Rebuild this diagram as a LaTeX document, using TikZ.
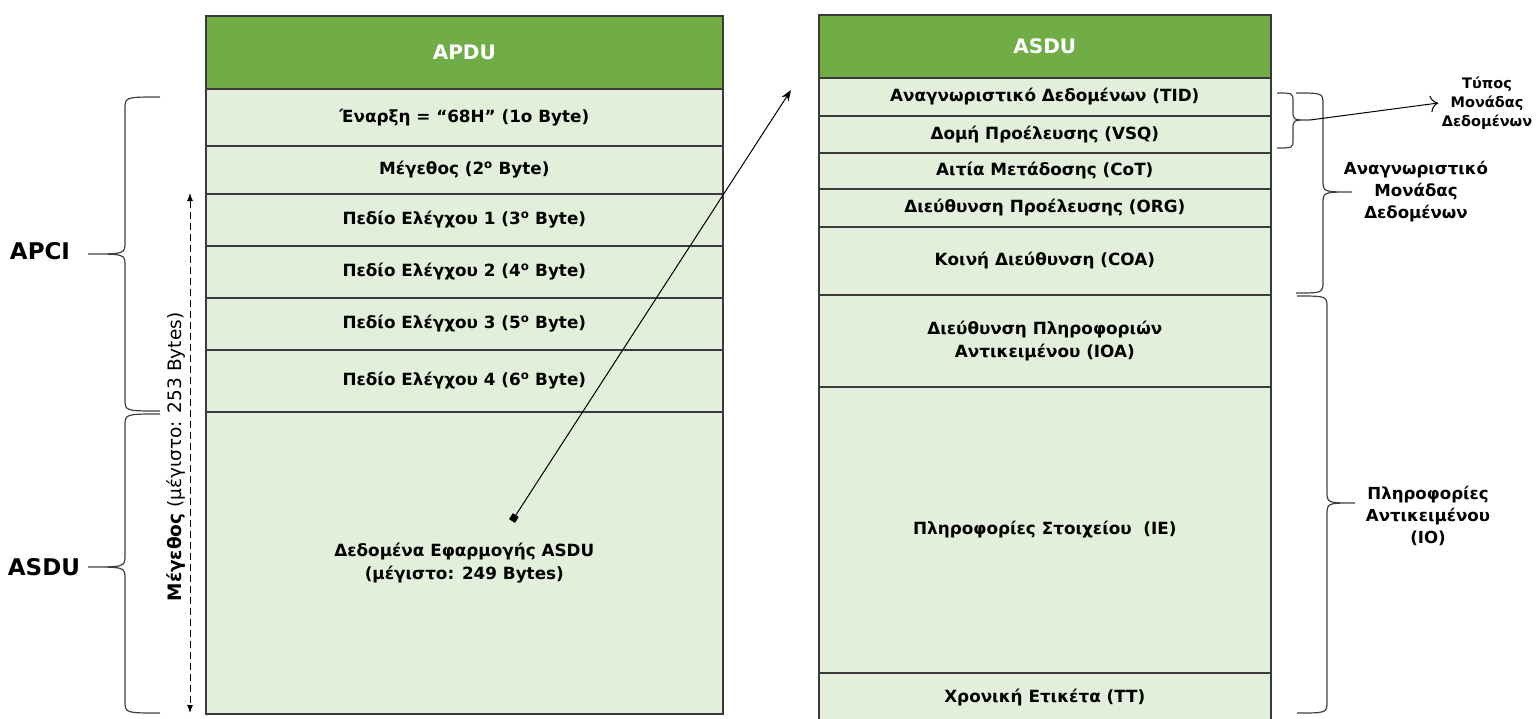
\documentclass[tikz,border=0pt]{standalone}
\usepackage{fontspec}
\setmainfont{DejaVu Sans}
\usepackage{tikz}
\usetikzlibrary{arrows.meta}

\definecolor{hdrgreen}{HTML}{70AD47}
\definecolor{cellgreen}{HTML}{E2EFDA}
\definecolor{rimgray}{HTML}{3A3A3A}

\tikzset{
	cell/.style={draw=rimgray, line width=1.6pt, fill=cellgreen, anchor=north west, inner sep=0pt, align=center, font=\bfseries\fontsize{16.8}{23}\selectfont},
	hdr/.style={cell, fill=hdrgreen, text=white, font=\bfseries\fontsize{20}{24}\selectfont},
	side/.style={align=center, font=\bfseries\fontsize{16.6}{22}\selectfont},
	bracestyle/.style={line width=1.2pt, draw=black!75},
}

% #1 end x, #2 spine x, #3 tip x, #4 top y, #5 tip y, #6 bottom y, #7 curl
\newcommand{\officebrace}[7]{%
	\draw [bracestyle] (#1,#4) .. controls (#2,#4) .. (#2,#4+#7) -- (#2,#5-#7)
		.. controls (#2,#5) .. (#3,#5) .. controls (#2,#5) .. (#2,#5+#7)
		-- (#2,#6-#7) .. controls (#2,#6) .. (#1,#6);}

\begin{document}
\begin{tikzpicture}[>=latex, x=1pt, y=-1pt]
		%\draw [help lines, step=50] (0,0) grid (1538,718);
		\useasboundingbox (0,0) rectangle (1538,718);
		% left table
		\node [hdr, minimum width=517, minimum height=73] (apdu) at (205,15) {APDU};
		\node [cell, minimum width=517, minimum height=57] (start) at (205,88) {Έναρξη = “68H” (1ο Byte)};
		\node [cell, minimum width=517, minimum height=48] (len) at (205,145) {Μέγεθος (2\textsuperscript{ο} Byte)};
		\foreach \n/\y/\h in {1/193/52, 2/245/52, 3/297/52, 4/349/62} {
			\pgfmathtruncatemacro\b{\n+2}
			\node [cell, minimum width=517, minimum height=\h] (ctl\n) at (205,\y) {Πεδίο Ελέγχου \n\ (\b\textsuperscript{ο} Byte)};
		}
		\node [cell, minimum width=517, minimum height=302] (appdata) at (205,411) {Δεδομένα Εφαρμογής ASDU\\(μέγιστο: 249 Bytes)};
		% right table
		\node [hdr, minimum width=452, minimum height=63] (asdu) at (818,14) {ASDU};
		\node [cell, minimum width=452, minimum height=38] (tid) at (818,77) {Αναγνωριστικό Δεδομένων (TID)};
		\node [cell, minimum width=452, minimum height=37] (vsq) at (818,115) {Δομή Προέλευσης (VSQ)};
		\node [cell, minimum width=452, minimum height=36] (cot) at (818,152) {Αιτία Μετάδοσης (CoT)};
		\node [cell, minimum width=452, minimum height=38] (org) at (818,188) {Διεύθυνση Προέλευσης (ORG)};
		\node [cell, minimum width=452, minimum height=68] (coa) at (818,226) {Κοινή Διεύθυνση (COA)};
		\node [cell, minimum width=452, minimum height=92] (ioa) at (818,294) {Διεύθυνση Πληροφοριών\\Αντικειμένου (IOA)};
		\node [cell, minimum width=452, minimum height=286] (ie) at (818,386) {Πληροφορίες Στοιχείου~ (IE)};
		\node [cell, minimum width=452, minimum height=50] (tt) at (818,672) {Χρονική Ετικέτα (TT)};
		% left side
		\node [side, font=\bfseries\fontsize{23}{26}\selectfont] (apci) at (40,251) {APCI};
		\node [side, font=\bfseries\fontsize{23}{26}\selectfont] (asdulbl) at (44,567) {ASDU};
		\officebrace{160}{125}{88}{97}{254}{411}{12}
		\officebrace{160}{125}{88}{414}{567}{713}{12}
		\coordinate (szTop) at (190,193);
		\coordinate (szBot) at (190,713);
		\draw [dash pattern=on 7pt off 4pt, line width=1pt, {Latex[length=8pt]}-{Latex[length=8pt]}] (szTop) -- (szBot);
		\node [rotate=90, font=\fontsize{18.5}{22}\selectfont] (szlbl) at (176,457) {\textbf{Μέγεθος} (μέγιστο: 253 Bytes)};
		% link to ASDU
		\coordinate (dataPt) at (512,521);
		\coordinate (asduPt) at (791,90);
		\draw [line width=1pt, {Square[length=7pt,width=7pt]}-{Stealth[length=11pt]}] (dataPt) -- (asduPt);
		% right side
		\officebrace{1277}{1293}{1310}{93}{120}{148}{9}
		\officebrace{1296}{1323}{1352}{93}{192}{293}{12}
		\officebrace{1297}{1327}{1355}{296}{503}{713}{12}
		\node [side] (duid) at (1416,192) {Αναγνωριστικό\\Μονάδας\\Δεδομένων};
		\node [side] (iolbl) at (1428,516) {Πληροφορίες\\Αντικειμένου\\(IO)};
		\node [side, font=\bfseries\fontsize{14.5}{19}\selectfont] (typlbl) at (1487,103) {Τύπος\\Μονάδας\\Δεδομένων};
		\coordinate (tidTip) at (1310,120);
		\draw [line width=1pt, -{To[length=8pt]}] (tidTip) -- (typlbl.west);
	\end{tikzpicture}
\end{document}
